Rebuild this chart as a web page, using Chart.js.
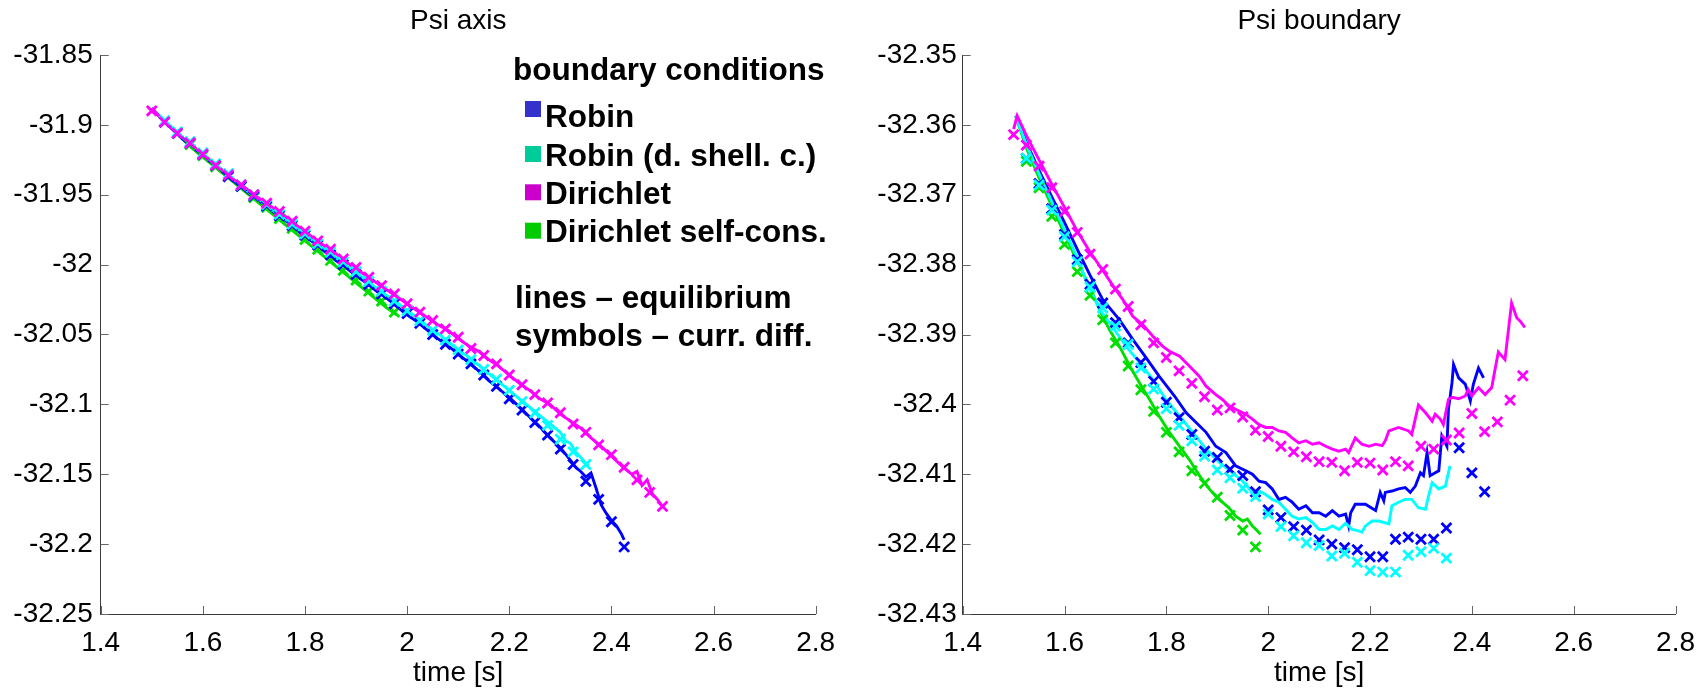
<!DOCTYPE html>
<html>
<head>
<meta charset="utf-8">
<script src="https://cdn.jsdelivr.net/npm/chart.js@4.4.1/dist/chart.umd.min.js"></script>
<style>
  html, body { margin: 0; padding: 0; background: #ffffff; }
  #wrap { position: relative; width: 1707px; height: 690px; overflow: hidden; }
  #cAxis { position: absolute; left: 0; top: 0; }
  #cBnd { position: absolute; left: 853px; top: 0; }
</style>
</head>
<body>
<div id="wrap">
  <canvas id="cAxis" width="853" height="690"></canvas>
  <canvas id="cBnd" width="854" height="690"></canvas>
</div>
<script>
// ---------------- tick values / labels ----------------
const xTickValues = [1.4, 1.6, 1.8, 2.0, 2.2, 2.4, 2.6, 2.8];
const xTickLabels = ['1.4', '1.6', '1.8', '2', '2.2', '2.4', '2.6', '2.8'];
const axisTickValues = [-32.25, -32.2, -32.15, -32.1, -32.05, -32.0, -31.95, -31.9, -31.85];
const axisTickLabels = ['-32.25', '-32.2', '-32.15', '-32.1', '-32.05', '-32', '-31.95', '-31.9', '-31.85'];
const bndTickValues = [-32.43, -32.42, -32.41, -32.40, -32.39, -32.38, -32.37, -32.36, -32.35];
const bndTickLabels = ['-32.43', '-32.42', '-32.41', '-32.4', '-32.39', '-32.38', '-32.37', '-32.36', '-32.35'];

const titleAxis = 'Psi axis';
const titleBnd = 'Psi boundary';
const xTitle = 'time [s]';

// ---------------- legend text ----------------
const legendTitle = 'boundary conditions';
const legendNames = ['Robin', 'Robin (d. shell. c.)', 'Dirichlet', 'Dirichlet self-cons.'];
const legendColors = ['#3333cc', '#00cc99', '#cc00cc', '#00cc00'];
const noteLines = ['lines \u2013 equilibrium', 'symbols \u2013 curr. diff.'];

// series colours: Robin, Robin (d. shell. c.), Dirichlet, Dirichlet self-cons.
const seriesColors = ['#0000ff', '#00ffff', '#ff00ff', '#00e000'];

// ---------------- Psi axis: symbols (curr. diff.) ----------------
const axisDirichletPts = [[1.500,-31.890],[1.525,-31.898],[1.550,-31.906],[1.575,-31.913],[1.600,-31.921],[1.625,-31.929],[1.650,-31.936],[1.675,-31.943],[1.700,-31.950],[1.725,-31.956],[1.750,-31.962],[1.775,-31.969],[1.800,-31.976],[1.825,-31.983],[1.850,-31.989],[1.875,-31.996],[1.900,-32.002],[1.925,-32.009],[1.950,-32.015],[1.975,-32.021],[2.000,-32.028],[2.025,-32.034],[2.050,-32.040],[2.075,-32.046],[2.100,-32.052],[2.125,-32.060],[2.150,-32.065],[2.175,-32.071],[2.200,-32.079],[2.225,-32.086],[2.250,-32.093],[2.275,-32.099],[2.300,-32.106],[2.325,-32.114],[2.350,-32.120],[2.375,-32.129],[2.400,-32.136],[2.425,-32.145],[2.450,-32.154],[2.475,-32.163],[2.500,-32.173]];
const axisRobinPts = [[1.525,-31.898],[1.550,-31.906],[1.575,-31.913],[1.600,-31.921],[1.625,-31.929],[1.650,-31.937],[1.675,-31.944],[1.700,-31.951],[1.725,-31.958],[1.750,-31.965],[1.775,-31.972],[1.800,-31.979],[1.825,-31.986],[1.850,-31.993],[1.875,-32.000],[1.900,-32.007],[1.925,-32.014],[1.950,-32.021],[1.975,-32.028],[2.000,-32.035],[2.025,-32.042],[2.050,-32.050],[2.075,-32.057],[2.100,-32.064],[2.125,-32.071],[2.150,-32.079],[2.175,-32.087],[2.200,-32.096],[2.225,-32.104],[2.250,-32.113],[2.275,-32.122],[2.300,-32.132],[2.325,-32.143],[2.350,-32.155],[2.375,-32.168],[2.400,-32.184],[2.425,-32.202]];
const axisShellPts = [[1.525,-31.897],[1.550,-31.905],[1.575,-31.912],[1.600,-31.920],[1.625,-31.928],[1.650,-31.935],[1.675,-31.943],[1.700,-31.950],[1.725,-31.957],[1.750,-31.964],[1.775,-31.971],[1.800,-31.978],[1.825,-31.985],[1.850,-31.991],[1.875,-31.998],[1.900,-32.005],[1.925,-32.012],[1.950,-32.019],[1.975,-32.026],[2.000,-32.033],[2.025,-32.040],[2.050,-32.047],[2.075,-32.054],[2.100,-32.061],[2.125,-32.068],[2.150,-32.075],[2.175,-32.082],[2.200,-32.090],[2.225,-32.098],[2.250,-32.106],[2.275,-32.115],[2.300,-32.125],[2.325,-32.134],[2.350,-32.143]];
const axisSelfPts = [[1.525,-31.898],[1.550,-31.906],[1.575,-31.914],[1.600,-31.922],[1.625,-31.930],[1.650,-31.937],[1.675,-31.944],[1.700,-31.952],[1.725,-31.959],[1.750,-31.967],[1.775,-31.974],[1.800,-31.982],[1.825,-31.989],[1.850,-31.997],[1.875,-32.004],[1.900,-32.011],[1.925,-32.019],[1.950,-32.026],[1.975,-32.034]];

// ---------------- Psi axis: lines (equilibrium) ----------------
const axisDirichletLine = [[1.50,-31.888],[1.52,-31.896],[1.54,-31.903],[1.56,-31.909],[1.58,-31.915],[1.60,-31.921],[1.62,-31.927],[1.64,-31.933],[1.66,-31.939],[1.68,-31.944],[1.70,-31.950],[1.72,-31.955],[1.74,-31.960],[1.76,-31.965],[1.78,-31.971],[1.80,-31.976],[1.82,-31.982],[1.84,-31.987],[1.86,-31.992],[1.88,-31.998],[1.90,-32.003],[1.92,-32.008],[1.94,-32.013],[1.96,-32.018],[1.98,-32.023],[2.00,-32.028],[2.02,-32.033],[2.04,-32.038],[2.06,-32.043],[2.08,-32.047],[2.10,-32.053],[2.12,-32.058],[2.14,-32.062],[2.16,-32.068],[2.18,-32.073],[2.20,-32.079],[2.22,-32.085],[2.24,-32.090],[2.26,-32.096],[2.28,-32.100],[2.30,-32.107],[2.32,-32.112],[2.34,-32.117],[2.36,-32.124],[2.38,-32.130],[2.40,-32.137],[2.42,-32.144],[2.44,-32.150],[2.45,-32.148],[2.46,-32.158],[2.47,-32.154],[2.48,-32.164],[2.49,-32.168],[2.50,-32.173]];
const axisRobinLine = [[1.50,-31.888],[1.52,-31.896],[1.54,-31.903],[1.56,-31.910],[1.58,-31.916],[1.60,-31.922],[1.62,-31.928],[1.64,-31.934],[1.66,-31.940],[1.68,-31.946],[1.70,-31.952],[1.72,-31.957],[1.74,-31.963],[1.76,-31.968],[1.78,-31.974],[1.80,-31.980],[1.82,-31.985],[1.84,-31.991],[1.86,-31.997],[1.88,-32.002],[1.90,-32.008],[1.92,-32.013],[1.94,-32.019],[1.96,-32.024],[1.98,-32.030],[2.00,-32.036],[2.02,-32.041],[2.04,-32.047],[2.06,-32.053],[2.08,-32.058],[2.10,-32.064],[2.12,-32.070],[2.14,-32.076],[2.16,-32.083],[2.18,-32.089],[2.20,-32.095],[2.22,-32.102],[2.24,-32.109],[2.26,-32.116],[2.28,-32.124],[2.30,-32.131],[2.32,-32.140],[2.33,-32.145],[2.34,-32.148],[2.35,-32.152],[2.36,-32.149],[2.37,-32.160],[2.38,-32.172],[2.39,-32.178],[2.40,-32.183],[2.41,-32.187],[2.42,-32.193],[2.425,-32.197]];
const axisShellLine = [[1.50,-31.888],[1.52,-31.895],[1.54,-31.902],[1.56,-31.909],[1.58,-31.915],[1.60,-31.921],[1.62,-31.927],[1.64,-31.933],[1.66,-31.939],[1.68,-31.945],[1.70,-31.951],[1.72,-31.956],[1.74,-31.962],[1.76,-31.967],[1.78,-31.973],[1.80,-31.978],[1.82,-31.984],[1.84,-31.989],[1.86,-31.995],[1.88,-32.000],[1.90,-32.006],[1.92,-32.011],[1.94,-32.017],[1.96,-32.022],[1.98,-32.027],[2.00,-32.033],[2.02,-32.038],[2.04,-32.044],[2.06,-32.049],[2.08,-32.055],[2.10,-32.061],[2.12,-32.066],[2.14,-32.072],[2.16,-32.078],[2.18,-32.084],[2.20,-32.090],[2.22,-32.096],[2.24,-32.102],[2.26,-32.108],[2.28,-32.114],[2.30,-32.120],[2.31,-32.126],[2.32,-32.128],[2.33,-32.134],[2.34,-32.138],[2.355,-32.144]];
const axisSelfLine = [[1.50,-31.888],[1.52,-31.896],[1.54,-31.903],[1.56,-31.910],[1.58,-31.917],[1.60,-31.923],[1.62,-31.929],[1.64,-31.935],[1.66,-31.941],[1.68,-31.947],[1.70,-31.953],[1.72,-31.959],[1.74,-31.965],[1.76,-31.971],[1.78,-31.977],[1.80,-31.983],[1.82,-31.989],[1.84,-31.995],[1.86,-32.001],[1.88,-32.007],[1.90,-32.013],[1.92,-32.019],[1.94,-32.025],[1.96,-32.031],[1.98,-32.036]];

// ---------------- Psi boundary: symbols (curr. diff.) ----------------
const bndDirichletPts = [[1.500,-32.3614],[1.525,-32.3629],[1.550,-32.3659],[1.575,-32.3690],[1.600,-32.3724],[1.625,-32.3754],[1.650,-32.3785],[1.675,-32.3807],[1.700,-32.3835],[1.725,-32.3860],[1.750,-32.3886],[1.775,-32.3912],[1.800,-32.3933],[1.825,-32.3952],[1.850,-32.3970],[1.875,-32.3989],[1.900,-32.4008],[1.925,-32.4005],[1.950,-32.4018],[1.975,-32.4037],[2.000,-32.4046],[2.025,-32.4060],[2.050,-32.4068],[2.075,-32.4075],[2.100,-32.4082],[2.125,-32.4083],[2.150,-32.4095],[2.175,-32.4083],[2.200,-32.4084],[2.225,-32.4094],[2.250,-32.4082],[2.275,-32.4088],[2.300,-32.4060],[2.325,-32.4064],[2.350,-32.4051],[2.375,-32.4041],[2.400,-32.4013],[2.425,-32.4039],[2.450,-32.4025],[2.475,-32.3994],[2.500,-32.3959]];
const bndRobinPts = [[1.525,-32.3648],[1.550,-32.3684],[1.575,-32.3720],[1.600,-32.3757],[1.625,-32.3793],[1.650,-32.3828],[1.675,-32.3855],[1.700,-32.3883],[1.725,-32.3912],[1.750,-32.3940],[1.775,-32.3967],[1.800,-32.3997],[1.825,-32.4019],[1.850,-32.4043],[1.875,-32.4067],[1.900,-32.4076],[1.925,-32.4093],[1.950,-32.4102],[1.975,-32.4125],[2.000,-32.4151],[2.025,-32.4162],[2.050,-32.4175],[2.075,-32.4180],[2.100,-32.4194],[2.125,-32.4200],[2.150,-32.4205],[2.175,-32.4208],[2.200,-32.4218],[2.225,-32.4218],[2.250,-32.4193],[2.275,-32.4190],[2.300,-32.4193],[2.325,-32.4193],[2.350,-32.4177],[2.375,-32.4062],[2.400,-32.4098],[2.425,-32.4125]];
const bndShellPts = [[1.525,-32.3648],[1.550,-32.3686],[1.575,-32.3722],[1.600,-32.3760],[1.625,-32.3796],[1.650,-32.3832],[1.675,-32.3862],[1.700,-32.3888],[1.725,-32.3914],[1.750,-32.3948],[1.775,-32.3978],[1.800,-32.4006],[1.825,-32.4030],[1.850,-32.4052],[1.875,-32.4074],[1.900,-32.4094],[1.925,-32.4105],[1.950,-32.4120],[1.975,-32.4132],[2.000,-32.4157],[2.025,-32.4175],[2.050,-32.4188],[2.075,-32.4198],[2.100,-32.4202],[2.125,-32.4217],[2.150,-32.4213],[2.175,-32.4226],[2.200,-32.4238],[2.225,-32.4240],[2.250,-32.4240],[2.275,-32.4216],[2.300,-32.4211],[2.325,-32.4206],[2.350,-32.4220]];
const bndSelfPts = [[1.525,-32.3652],[1.550,-32.3690],[1.575,-32.3731],[1.600,-32.3771],[1.625,-32.3810],[1.650,-32.3844],[1.675,-32.3879],[1.700,-32.3912],[1.725,-32.3945],[1.750,-32.3979],[1.775,-32.4010],[1.800,-32.4040],[1.825,-32.4068],[1.850,-32.4095],[1.875,-32.4113],[1.900,-32.4133],[1.925,-32.4159],[1.950,-32.4180],[1.975,-32.4204]];

// ---------------- Psi boundary: lines (equilibrium) ----------------
const bndDirichletLine = [[1.500,-32.3606],[1.507,-32.3587],[1.525,-32.3615],[1.550,-32.3650],[1.575,-32.3685],[1.600,-32.3718],[1.625,-32.3752],[1.650,-32.3782],[1.675,-32.3808],[1.695,-32.3830],[1.7145,-32.3850],[1.734,-32.3874],[1.754,-32.3886],[1.773,-32.3902],[1.793,-32.3917],[1.806,-32.3924],[1.826,-32.3931],[1.845,-32.3945],[1.865,-32.3960],[1.878,-32.3974],[1.897,-32.3986],[1.910,-32.3993],[1.923,-32.4002],[1.936,-32.4007],[1.956,-32.4014],[1.969,-32.4021],[1.982,-32.4029],[1.995,-32.4033],[2.008,-32.4033],[2.021,-32.4038],[2.034,-32.4040],[2.047,-32.4048],[2.060,-32.4055],[2.074,-32.4052],[2.087,-32.4057],[2.100,-32.4055],[2.113,-32.4060],[2.126,-32.4064],[2.139,-32.4067],[2.152,-32.4064],[2.158,-32.4069],[2.171,-32.4048],[2.184,-32.4057],[2.198,-32.4060],[2.211,-32.4057],[2.224,-32.4059],[2.230,-32.4052],[2.237,-32.4038],[2.256,-32.4033],[2.276,-32.4038],[2.282,-32.4043],[2.295,-32.4001],[2.309,-32.4012],[2.322,-32.4024],[2.328,-32.4014],[2.338,-32.4021],[2.344,-32.4029],[2.354,-32.3993],[2.361,-32.3990],[2.374,-32.3992],[2.387,-32.3988],[2.393,-32.3979],[2.400,-32.3988],[2.413,-32.3976],[2.426,-32.3986],[2.439,-32.3976],[2.446,-32.3948],[2.452,-32.3925],[2.459,-32.3931],[2.465,-32.3936],[2.478,-32.3855],[2.488,-32.3876],[2.495,-32.3881],[2.504,-32.3890]];
const bndRobinLine = [[1.504,-32.3587],[1.525,-32.3625],[1.550,-32.3665],[1.575,-32.3703],[1.600,-32.3740],[1.625,-32.3778],[1.650,-32.3815],[1.675,-32.3850],[1.708,-32.3879],[1.734,-32.3907],[1.760,-32.3933],[1.786,-32.3960],[1.816,-32.3988],[1.839,-32.4012],[1.878,-32.4040],[1.897,-32.4060],[1.917,-32.4069],[1.936,-32.4088],[1.956,-32.4095],[1.969,-32.4100],[1.982,-32.4110],[1.995,-32.4112],[2.008,-32.4121],[2.021,-32.4136],[2.034,-32.4133],[2.047,-32.4140],[2.060,-32.4150],[2.074,-32.4145],[2.087,-32.4155],[2.100,-32.4155],[2.113,-32.4160],[2.126,-32.4152],[2.139,-32.4160],[2.152,-32.4157],[2.158,-32.4174],[2.162,-32.4155],[2.171,-32.4143],[2.191,-32.4143],[2.211,-32.4152],[2.220,-32.4126],[2.227,-32.4138],[2.230,-32.4126],[2.243,-32.4124],[2.256,-32.4121],[2.269,-32.4119],[2.279,-32.4126],[2.289,-32.4117],[2.299,-32.4098],[2.305,-32.4102],[2.312,-32.4069],[2.318,-32.4102],[2.328,-32.4098],[2.335,-32.4095],[2.341,-32.4045],[2.351,-32.4060],[2.354,-32.4007],[2.361,-32.3969],[2.364,-32.3943],[2.374,-32.3962],[2.387,-32.3971],[2.397,-32.3995],[2.403,-32.3971],[2.413,-32.3948],[2.423,-32.3962]];
const bndShellLine = [[1.504,-32.3587],[1.525,-32.3628],[1.550,-32.3670],[1.575,-32.3710],[1.600,-32.3750],[1.625,-32.3790],[1.645,-32.3828],[1.669,-32.3864],[1.695,-32.3890],[1.721,-32.3917],[1.747,-32.3940],[1.773,-32.3964],[1.799,-32.3993],[1.826,-32.4017],[1.852,-32.4040],[1.878,-32.4064],[1.904,-32.4083],[1.930,-32.4098],[1.950,-32.4110],[1.969,-32.4126],[1.982,-32.4124],[1.995,-32.4129],[2.008,-32.4136],[2.021,-32.4140],[2.034,-32.4150],[2.047,-32.4160],[2.060,-32.4164],[2.074,-32.4162],[2.087,-32.4169],[2.100,-32.4179],[2.113,-32.4179],[2.126,-32.4174],[2.139,-32.4179],[2.152,-32.4170],[2.165,-32.4179],[2.178,-32.4181],[2.184,-32.4183],[2.191,-32.4174],[2.204,-32.4167],[2.217,-32.4167],[2.237,-32.4171],[2.243,-32.4145],[2.256,-32.4140],[2.269,-32.4136],[2.282,-32.4136],[2.295,-32.4148],[2.309,-32.4150],[2.315,-32.4131],[2.322,-32.4112],[2.335,-32.4121],[2.348,-32.4117],[2.357,-32.4088]];
const bndSelfLine = [[1.504,-32.3587],[1.525,-32.3633],[1.550,-32.3676],[1.575,-32.3716],[1.600,-32.3756],[1.625,-32.3795],[1.650,-32.3832],[1.669,-32.3865],[1.688,-32.3893],[1.708,-32.3917],[1.728,-32.3945],[1.747,-32.3969],[1.767,-32.3993],[1.786,-32.4017],[1.806,-32.4040],[1.826,-32.4060],[1.845,-32.4079],[1.865,-32.4102],[1.884,-32.4121],[1.897,-32.4131],[1.910,-32.4140],[1.923,-32.4148],[1.936,-32.4160],[1.950,-32.4167],[1.959,-32.4164],[1.969,-32.4174],[1.976,-32.4179],[1.985,-32.4186]];

// ---------------- helpers ----------------
Chart.defaults.font.family = '"Liberation Sans", Arial, Helvetica, sans-serif';
Chart.defaults.color = '#000000';

const toXY = (pairs) => pairs.map(p => ({ x: p[0], y: p[1] }));

function lineSet(pairs, color, order) {
  return { data: toXY(pairs), showLine: true, borderColor: color, borderWidth: 2.9,
           pointRadius: 0, pointHoverRadius: 0, tension: 0, fill: false, order: order };
}
function markSet(pairs, color, order) {
  return { data: toXY(pairs), showLine: false, pointStyle: 'crossRot', pointRadius: 7,
           pointHoverRadius: 7, pointBorderWidth: 2.8, pointBorderColor: color,
           pointBackgroundColor: color, borderColor: color, order: order };
}

const inwardTicks = {
  id: 'inwardTicks',
  afterDraw(chart) {
    const { ctx, chartArea, scales } = chart;
    const xs = scales.x, ys = scales.y;
    ctx.save();
    ctx.strokeStyle = '#666666';
    ctx.lineWidth = 1;
    ctx.beginPath();
    xs.ticks.forEach(t => {
      const px = Math.round(xs.getPixelForValue(t.value)) + 0.5;
      ctx.moveTo(px, chartArea.bottom);
      ctx.lineTo(px, chartArea.bottom - 8);
    });
    ys.ticks.forEach(t => {
      const py = Math.round(ys.getPixelForValue(t.value)) + 0.5;
      ctx.moveTo(chartArea.left, py);
      ctx.lineTo(chartArea.left + 8, py);
    });
    ctx.stroke();
    ctx.restore();
  }
};

const textLegend = {
  id: 'textLegend',
  afterDraw(chart) {
    const ctx = chart.ctx;
    ctx.save();
    ctx.fillStyle = '#000000';
    ctx.textAlign = 'left';
    ctx.textBaseline = 'alphabetic';
    ctx.font = 'bold 31.5px "Liberation Sans", Arial, sans-serif';
    ctx.fillText(legendTitle, 513, 80);
    const baselines = [127.3, 165.5, 203.5, 241.7];
    const boxTops = [101, 146, 184.3, 222.7];
    legendNames.forEach((name, i) => {
      ctx.fillStyle = legendColors[i];
      ctx.fillRect(525, boxTops[i], 16, 16);
      ctx.fillStyle = '#000000';
      ctx.fillText(name, 545, baselines[i]);
    });
    ctx.fillText(noteLines[0], 515, 308);
    ctx.fillText(noteLines[1], 515, 345.5);
    ctx.restore();
  }
};

function makeChart(canvasId, cfg) {
  const datasets = [
    markSet(cfg.pts[2], seriesColors[2], 0),
    markSet(cfg.pts[1], seriesColors[1], 1),
    markSet(cfg.pts[0], seriesColors[0], 2),
    markSet(cfg.pts[3], seriesColors[3], 3),
    lineSet(cfg.lines[2], seriesColors[2], 4),
    lineSet(cfg.lines[1], seriesColors[1], 5),
    lineSet(cfg.lines[0], seriesColors[0], 6),
    lineSet(cfg.lines[3], seriesColors[3], 7)
  ];
  return new Chart(document.getElementById(canvasId), {
    type: 'scatter',
    data: { datasets },
    plugins: cfg.plugins,
    options: {
      responsive: false,
      animation: false,
      events: [],
      devicePixelRatio: 1,
      layout: { padding: { left: 0, right: cfg.padRight, top: 0, bottom: 0 } },
      plugins: {
        legend: { display: false },
        tooltip: { enabled: false },
        title: {
          display: true, text: cfg.title, color: '#000000', fullSize: false,
          font: { size: 28, weight: 'normal', lineHeight: 1.2 },
          padding: { top: 4.2, bottom: 17.2 }
        }
      },
      scales: {
        x: {
          type: 'linear', min: 1.4, max: 2.8,
          afterBuildTicks: (s) => { s.ticks = xTickValues.map(v => ({ value: v })); },
          afterFit: (s) => { s.height = 76; },
          grid: { display: false, drawTicks: false },
          border: { display: true, color: '#3c3c3c', width: 1 },
          ticks: { padding: 12, maxRotation: 0, autoSkip: false, font: { size: 28 }, color: '#000000',
                   callback: (v, i) => xTickLabels[i] },
          title: { display: true, text: xTitle, color: '#000000', font: { size: 28 }, padding: { top: 0, bottom: 0 } }
        },
        y: {
          type: 'linear', min: cfg.yMin, max: cfg.yMax,
          afterBuildTicks: (s) => { s.ticks = cfg.yVals.map(v => ({ value: v })); },
          afterFit: (s) => { s.width = cfg.yWidth; },
          grid: { display: false, drawTicks: false },
          border: { display: true, color: '#3c3c3c', width: 1 },
          ticks: { padding: cfg.yPad, autoSkip: false, font: { size: 28 }, color: '#000000',
                   callback: (v, i) => cfg.yLabels[i] }
        }
      }
    }
  });
}

makeChart('cAxis', {
  title: titleAxis,
  pts: [axisRobinPts, axisShellPts, axisDirichletPts, axisSelfPts],
  lines: [axisRobinLine, axisShellLine, axisDirichletLine, axisSelfLine],
  yMin: -32.25, yMax: -31.85, yVals: axisTickValues, yLabels: axisTickLabels,
  yWidth: 100.7, yPad: 8, padRight: 37.3,
  plugins: [inwardTicks, textLegend]
});

makeChart('cBnd', {
  title: titleBnd,
  pts: [bndRobinPts, bndShellPts, bndDirichletPts, bndSelfPts],
  lines: [bndRobinLine, bndShellLine, bndDirichletLine, bndSelfLine],
  yMin: -32.43, yMax: -32.35, yVals: bndTickValues, yLabels: bndTickLabels,
  yWidth: 109.7, yPad: 6, padRight: 29.3,
  plugins: [inwardTicks]
});
</script>
</body>
</html>
